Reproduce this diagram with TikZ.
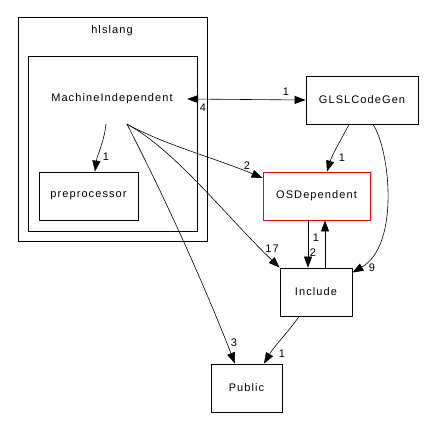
\documentclass[tikz,border=0pt]{standalone}
\usepackage{fontspec}
\setmainfont{Liberation Sans}[LetterSpace=10]
\usetikzlibrary{arrows.meta}

\begin{document}
\begin{tikzpicture}[x=1pt, y=-1pt,
  dirbox/.style={draw, line width=0.8pt, minimum width=#1, minimum height=48pt, inner sep=0pt, font=\fontsize{11}{12}\selectfont},
  dirbox/.default=72pt,
  lbl/.style={inner sep=0pt, font=\fontsize{11}{12}\selectfont},
  dep/.style={line width=0.6pt, -{Triangle[length=11pt, width=8pt]}}]
% Set the canvas size
\useasboundingbox (0, 0) rectangle (427, 429);

% Draw the hlslang folder and its inner folder
\draw[line width=0.8pt] (18, 17) rectangle (207, 241);
\node[lbl] (hlslang) at (112, 31) {hlslang};
\draw[line width=0.8pt] (28, 56) rectangle (197, 231);
\node[lbl, minimum width=150pt, minimum height=50pt] (machineindep) at (112, 99) {MachineIndependent};

% Draw the directory boxes
\node[dirbox=99pt] (preproc) at (88.5, 196) {preprocessor};
\node[dirbox=112pt] (glsl) at (362, 100) {GLSLCodeGen};
\node[dirbox=107pt, draw=red] (osdep) at (316.5, 196) {OSDependent};
\node[dirbox] (include) at (316, 292) {Include};
\node[dirbox=71pt] (public) at (246.5, 388) {Public};

% Draw the dependencies
\draw[dep, {Triangle[length=11pt, width=8pt]}-{Triangle[length=11pt, width=8pt]}] (machineindep.east) -- (glsl.west);
\node[lbl] (l-glsl) at (286, 92) {1};
\node[lbl] (l-mi) at (203, 108) {4};
\draw[dep] ([xshift=-6pt]machineindep.south) .. controls (104, 142) and (97, 156) .. ([xshift=6.5pt]preproc.north);
\node[lbl] (l-pre) at (106, 157) {1};
\draw[dep] ([xshift=15pt]machineindep.south) .. controls (165, 145) and (215, 158) .. ([yshift=18pt]osdep.west);
\node[lbl] (l-os) at (247, 166) {2};
\draw[dep] ([xshift=15pt]machineindep.south) .. controls (175, 150) and (225, 215) .. (include.north west);
\node[lbl] (l-inc) at (272, 249) {17};
\draw[dep] ([xshift=15pt]machineindep.south) .. controls (166, 200) and (203, 282) .. ([xshift=-11.5pt]public.north);
\node[lbl] (l-pub) at (234, 343) {3};
\draw[dep] ([xshift=-13pt]glsl.south) .. controls (342, 138) and (332, 155) .. ([xshift=10.5pt]osdep.north);
\node[lbl] (l-go) at (342, 158) {1};
\draw[dep] ([xshift=11pt]glsl.south) .. controls (390, 150) and (400, 245) .. ([yshift=-5pt]include.north east);
\node[lbl] (l-gi) at (372, 268) {9};
\draw[dep] ([xshift=-8.5pt]osdep.south) -- ([xshift=-8pt]include.north);
\node[lbl] (l-oi) at (313, 253) {2};
\draw[dep] ([xshift=9pt]include.north) -- ([xshift=8.5pt]osdep.south);
\node[lbl] (l-io) at (316, 238) {1};
\draw[dep] ([xshift=-17pt]include.south) .. controls (290, 330) and (275, 345) .. ([xshift=17.5pt]public.north);
\node[lbl] (l-ip) at (282, 354) {1};
\end{tikzpicture}
\end{document}
